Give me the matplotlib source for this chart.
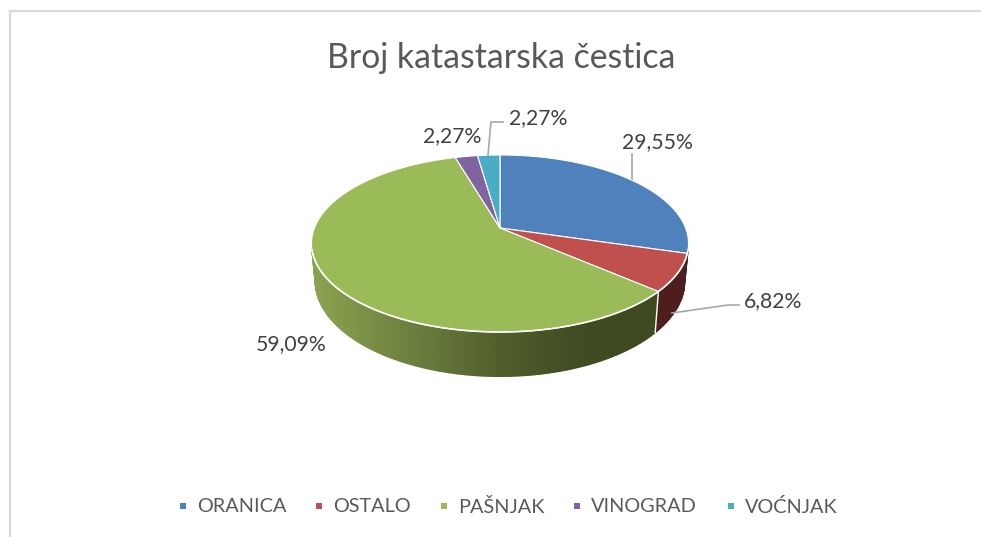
import numpy as np
import matplotlib.pyplot as plt
from matplotlib.colors import to_rgb
from matplotlib.patches import Polygon

plt.rcParams['font.family'] = ['Lato', 'DejaVu Sans']

categories = ["ORANICA", "OSTALO", "PAŠNJAK", "VINOGRAD", "VOĆNJAK"]
values = [29.55, 6.82, 59.09, 2.27, 2.27]
labels = ["29,55%", "6,82%", "59,09%", "2,27%", "2,27%"]
colors = ["#4F81BD", "#C0504D", "#9BBB59", "#8064A2", "#4BACC6"]
title = "Broj katastarska čestica"

# pie geometry in pixels (perspective view of a disc)
cx, cy = 500, 228
a, b, k = 185.6, 85.8, 0.175
low_x, low_y, low_off = 0.98, 1.08, 36


def top_rim(ang):
    u, v = np.sin(ang), np.cos(ang)
    w = 1 + k * v
    return cx + a * u / w, cy - b * v / w


def low_rim(ang):
    u, v = np.sin(ang), np.cos(ang)
    w = 1 + k * v
    return cx + low_x * a * u / w, cy - low_y * b * v / w + low_off


def green_side(x):
    stops = [312, 400, 500, 580, 656]
    cols = [to_rgb(c) for c in ["#8BA350", "#6F8340", "#505E2C", "#3F4B22", "#3F4A20"]]
    return [np.interp(x, stops, [c[i] for c in cols]) for i in range(3)]


side_colors = ["#2A4566", "#4E1E1E", None, "#3D2F4F", "#245563"]

fig = plt.figure(figsize=(9.81, 5.37), dpi=100)
ax = fig.add_axes([0, 0, 1, 1])
ax.set_xlim(0, 981)
ax.set_ylim(537, 0)
ax.axis("off")

# frame of the chart (only top and left are visible)
ax.plot([10, 10, 981], [537, 11, 11], color="#D9D9D9", lw=1.6, solid_joinstyle="miter")

edges = np.radians(np.cumsum([0] + values) / sum(values) * 360)

# side of the pie first
for i in range(len(values)):
    n = max(int(np.degrees(edges[i + 1] - edges[i])), 2)
    ang = np.linspace(edges[i], edges[i + 1], n + 1)
    for j in range(n):
        if np.cos(ang[j]) > -0.25 and np.cos(ang[j + 1]) > -0.25:
            continue
        x1, y1 = top_rim(ang[j])
        x2, y2 = top_rim(ang[j + 1])
        x3, y3 = low_rim(ang[j + 1])
        x4, y4 = low_rim(ang[j])
        col = side_colors[i] if side_colors[i] else green_side((x1 + x2) / 2)
        ax.add_patch(Polygon([(x1, y1), (x2, y2), (x3, y3), (x4, y4)],
                             facecolor=col, edgecolor=col, lw=1.0, zorder=2))

# white line between the side faces
x1, y1 = top_rim(edges[2])
x2, y2 = low_rim(edges[2])
ax.plot([x1, x2], [y1, y2], color="white", lw=1, zorder=3)

# top of the pie
for i in range(len(values)):
    ang = np.linspace(edges[i], edges[i + 1], 200)
    xs, ys = top_rim(ang)
    pts = [(cx, cy)] + list(zip(xs, ys))
    ax.add_patch(Polygon(pts, facecolor=colors[i], edgecolor="white", lw=0.8,
                         joinstyle="round", zorder=4))

# white rim at the front
ang = np.linspace(0, 2 * np.pi, 720)
ang = ang[np.cos(ang) < -0.25]
xs, ys = top_rim(ang)
ax.plot(xs, ys, color="white", lw=1.2, zorder=5)

# leader lines
leader = "#A6A6A6"
ax.plot([632, 632], [154, 181], color=leader, lw=1.2, zorder=3)
ax.plot([672, 728, 739], [313, 305, 305], color=leader, lw=1.2, zorder=5)
ax.plot([488, 491, 503], [155, 122, 122], color=leader, lw=1.2, zorder=5)

# data labels
label_pos = [(657, 142), (773, 301), (291, 344), (452, 136), (538, 118)]
for txt, (x, y) in zip(labels, label_pos):
    ax.text(x, y, txt, fontsize=15.2, color="#404040", ha="center", va="center", zorder=6)

ax.text(501.5, 58, title, fontsize=24.3, color="#595959", ha="center", va="center")

# legend
marker_x = [183, 319, 444, 577, 731]
for name, col, x in zip(categories, colors, marker_x):
    ax.scatter([x], [506], marker="s", s=22, color=col, linewidths=0)
    ax.text(x + 14, 507, name, fontsize=14.3, color="#595959", ha="left", va="center")

plt.savefig("out.png", dpi=100)
